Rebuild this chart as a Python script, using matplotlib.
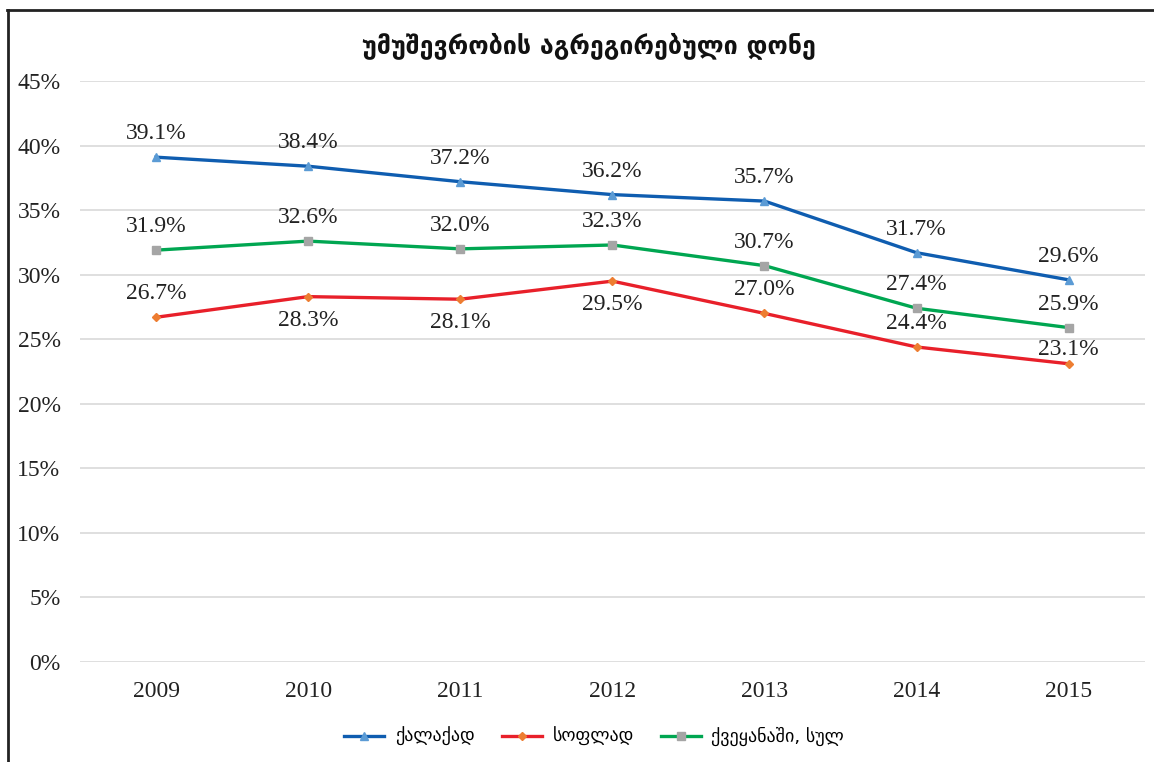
import matplotlib.pyplot as plt
from matplotlib.lines import Line2D
from matplotlib.ticker import FuncFormatter

# Data
years = ['2009', '2010', '2011', '2012', '2013', '2014', '2015']
city = [39.1, 38.4, 37.2, 36.2, 35.7, 31.7, 29.6]
village = [26.7, 28.3, 28.1, 29.5, 27.0, 24.4, 23.1]
country = [31.9, 32.6, 32.0, 32.3, 30.7, 27.4, 25.9]

title = 'უმუშევრობის აგრეგირებული დონე'
names = ['ქალაქად', 'სოფლად', 'ქვეყანაში, სულ']

# label offsets (points) for the village series, negative = below the point
village_dy = [17, -17, -17, -17, 17, 17, 10]

serif = ['Liberation Serif', 'DejaVu Serif', 'DejaVu Sans']
geo = ['DejaVu Sans']

fig = plt.figure(figsize=(11.54, 7.62), dpi=100)
ax = fig.add_axes([0.0693, 0.1312, 0.9227, 0.7625])

x = range(len(years))
ax.plot(x, city, color='#0F5DB0', lw=2.4, marker='^', ms=6,
        mfc='#5B9BD5', mec='#5B9BD5', label=names[0], zorder=3)
ax.plot(x, village, color='#E8202A', lw=2.4, marker='D', ms=4,
        mfc='#ED7D31', mec='#ED7D31', label=names[1], zorder=3)
ax.plot(x, country, color='#00A651', lw=2.4, marker='s', ms=6,
        mfc='#A5A5A5', mec='#A5A5A5', label=names[2], zorder=3)

def put_labels(vals, offsets=None):
    for i, v in enumerate(vals):
        dy = offsets[i] if offsets else 17
        ax.annotate(f'{v:.1f}%', (i, v), xytext=(0, dy),
                    textcoords='offset points', ha='center', va='center',
                    fontsize=17, family=serif, color='#222222')

put_labels(city)
put_labels(village, village_dy)
put_labels(country)

ax.set_xlim(-0.5, len(years) - 0.5)
ax.set_ylim(0, 45)
ax.set_yticks(range(0, 46, 5))
ax.yaxis.set_major_formatter(FuncFormatter(lambda v, p: f'{v:.0f}%'))
ax.set_xticks(list(x))
ax.set_xticklabels(years)
for lab in ax.get_xticklabels() + ax.get_yticklabels():
    lab.set_family(serif)
    lab.set_fontsize(17)
    lab.set_color('#222222')
ax.tick_params(length=0, pad=14)
ax.tick_params(axis='y', pad=14)
ax.grid(axis='y', color='#d9d9d9', lw=1.2)
ax.set_axisbelow(True)
for s in ax.spines.values():
    s.set_visible(False)

fig.text(0.51, 0.94, title, ha='center', va='center', fontsize=18,
         fontweight='bold', family=geo, color='#111111')

leg = fig.legend(loc='center', bbox_to_anchor=(0.515, 0.033), ncol=3,
                 frameon=False, prop={'family': geo, 'size': 13},
                 handlelength=2.2, columnspacing=1.5, handletextpad=0.6)

# frame lines at top and left
fig.add_artist(Line2D([0.006, 1.0], [0.9875, 0.9875], color='#222222', lw=2))
fig.add_artist(Line2D([0.0065, 0.0065], [0.0, 0.9875], color='#222222', lw=2))

fig.savefig('out.png', dpi=100, facecolor='white')
